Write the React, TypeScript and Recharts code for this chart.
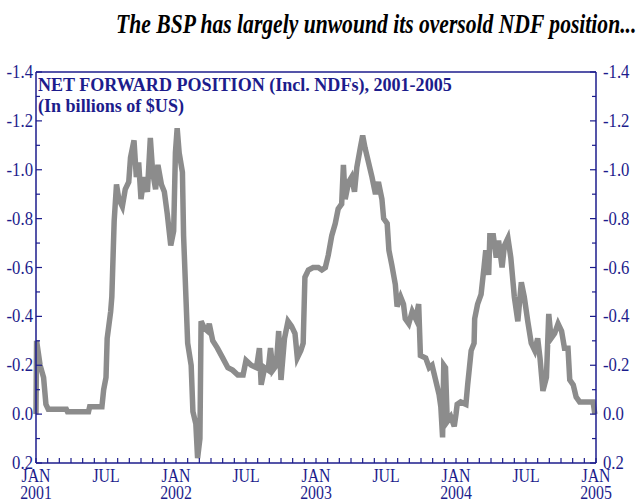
import { LineChart, Line, XAxis, YAxis, ReferenceLine } from "recharts";

// months since Jan 2001
const months = [
  0, 0.05, 0.35, 0.65, 0.85, 1.05, 2.6, 2.7, 4.5, 4.6, 5.65, 5.8, 6.0, 6.1, 6.4, 6.5, 6.7, 6.9, 7.1, 7.4,
  7.65, 7.95, 8.1, 8.4, 8.6, 8.8, 9.0, 9.25, 9.55, 9.8, 10.0, 10.25, 10.45, 10.75, 11.0, 11.25, 11.55, 11.8, 11.95, 12.1,
  12.27, 12.55, 12.65, 12.85, 13.0, 13.3, 13.45, 13.7, 13.85, 14.05, 14.15, 14.45, 14.7, 14.85, 15.15, 15.55, 16.0, 16.45, 16.85, 17.3,
  17.75, 18.0, 18.45, 18.9, 19.15, 19.3, 19.6, 19.9, 20.1, 20.3, 20.6, 20.8, 21.0, 21.3, 21.6, 21.9, 22.2, 22.4, 22.7, 22.9,
  23.05, 23.35, 23.75, 24.2, 24.5, 24.8, 25.05, 25.35, 25.65, 25.9, 26.2, 26.35, 26.5, 26.8, 27.05, 27.3, 27.5, 27.8, 28.0, 28.2,
  28.5, 28.8, 29.1, 29.35, 29.65, 29.8, 30.1, 30.25, 30.5, 30.8, 30.95, 31.25, 31.5, 31.65, 31.95, 32.25, 32.55, 32.8, 32.95, 33.4,
  33.7, 33.95, 34.25, 34.55, 34.7, 34.85, 34.95, 35.1, 35.25, 35.55, 35.85, 36.0, 36.1, 36.4, 36.85, 37.0, 37.15, 37.3, 37.55, 37.6,
  37.85, 38.15, 38.4, 38.55, 38.8, 38.9, 39.2, 39.45, 39.65, 39.95, 40.15, 40.45, 40.7, 41.0, 41.3, 41.6, 41.85, 42.15, 42.45, 42.75,
  43.0, 43.2, 43.45, 43.75, 43.95, 44.15, 44.45, 44.75, 45.05, 45.3, 45.6, 45.75, 46.05, 46.3, 46.6, 47.2, 47.75, 47.9,
];

// net forward position, billions of US$
const position = [
  0.0, -0.3, -0.2, -0.15, -0.04, -0.02, -0.02, -0.01, -0.01, -0.03, -0.03, -0.1, -0.15, -0.31, -0.42, -0.48, -0.79, -0.94, -0.88, -0.85,
  -0.92, -0.95, -1.05, -1.12, -0.97, -1.03, -0.88, -0.97, -0.91, -1.13, -0.99, -0.92, -1.02, -0.94, -0.91, -0.82, -0.69, -0.75, -1.07, -1.17,
  -1.07, -0.99, -0.73, -0.48, -0.29, -0.2, -0.01, 0.04, 0.18, 0.1, -0.38, -0.35, -0.34, -0.37, -0.3, -0.27, -0.23, -0.19, -0.18, -0.16,
  -0.16, -0.22, -0.2, -0.19, -0.27, -0.12, -0.19, -0.18, -0.27, -0.18, -0.2, -0.34, -0.14, -0.31, -0.38, -0.36, -0.33, -0.23, -0.26, -0.29,
  -0.56, -0.59, -0.6, -0.6, -0.59, -0.6, -0.65, -0.73, -0.78, -0.84, -0.86, -1.02, -0.88, -0.95, -0.97, -0.91, -1.01, -1.09, -1.14, -1.09,
  -1.03, -0.97, -0.9, -0.95, -0.88, -0.8, -0.78, -0.67, -0.61, -0.53, -0.44, -0.48, -0.45, -0.39, -0.37, -0.42, -0.39, -0.45, -0.24, -0.23,
  -0.19, -0.2, -0.14, -0.08, -0.03, 0.095, -0.2, -0.19, 0.03, 0.01, 0.05, 0.0, -0.04, -0.05, -0.04, -0.12, -0.19, -0.26, -0.29, -0.39,
  -0.45, -0.49, -0.6, -0.67, -0.57, -0.73, -0.73, -0.64, -0.71, -0.6, -0.69, -0.72, -0.64, -0.48, -0.38, -0.54, -0.48, -0.38, -0.29, -0.26,
  -0.31, -0.23, -0.095, -0.15, -0.41, -0.31, -0.33, -0.37, -0.34, -0.27, -0.27, -0.14, -0.12, -0.07, -0.05, -0.05, -0.05, 0.0,
];

const years = ["2001", "2002", "2003", "2004", "2005"];
const valueTicks = [-1.4, -1.3, -1.2, -1.1, -1.0, -0.9, -0.8, -0.7, -0.6, -0.5, -0.4, -0.3, -0.2, -0.1, 0.0, 0.1, 0.2];

const data = months.map((m, i) => ({ m, v: position[i] }));
const monthTicks = Array.from({ length: 49 }, (_, i) => i);

const NAVY = "#1c1c8c";
const FONT = "'Liberation Serif', 'Times New Roman', serif";

const isMajor = (v: number) => Math.round(v * 10) % 2 === 0;
const fmt = (v: number) => (Math.abs(v) < 1e-9 ? "0.0" : v.toFixed(1));

// slightly tall, narrow lettering like the original
const Label = ({ x, y, anchor, size = 19, children }: any) => (
  <text
    transform={`translate(${x},${y}) scale(0.88,1)`}
    textAnchor={anchor}
    fontSize={size}
    fill={NAVY}
    fontFamily={FONT}
  >
    {children}
  </text>
);

const LeftTick = ({ x, y, payload }: any) => (
  <g>
    <line x1={x} x2={x + (isMajor(payload.value) ? 6 : 4)} y1={y} y2={y} stroke={NAVY} strokeWidth={1.2} />
    {isMajor(payload.value) && (
      <Label x={x - 3} y={y + 6} anchor="end">
        {fmt(payload.value)}
      </Label>
    )}
  </g>
);

const RightTick = ({ x, y, payload }: any) => (
  <g>
    <line x1={x} x2={x - (isMajor(payload.value) ? 6 : 4)} y1={y} y2={y} stroke={NAVY} strokeWidth={1.2} />
    {isMajor(payload.value) && (
      <Label x={x + 7} y={y + 6} anchor="start">
        {fmt(payload.value)}
      </Label>
    )}
  </g>
);

const MonthTick = ({ x, y, payload }: any) => {
  const m = payload.value;
  const label = m % 12 === 0 ? "JAN" : m % 12 === 6 ? "JUL" : null;
  return (
    <g>
      <line x1={x} x2={x} y1={y} y2={y - 5} stroke={NAVY} strokeWidth={1.2} />
      {label && (
        <Label x={x} y={y + 19} anchor="middle" size={18}>
          {label}
        </Label>
      )}
      {m % 12 === 0 && (
        <Label x={x} y={y + 36} anchor="middle" size={18}>
          {years[m / 12]}
        </Label>
      )}
    </g>
  );
};

export default function App() {
  return (
    <div style={{ position: "absolute", left: 0, top: 0, width: 640, height: 502, background: "#fff", fontFamily: FONT }}>
      <div
        style={{
          position: "absolute",
          right: 4,
          top: 9,
          fontSize: 27,
          fontWeight: "bold",
          fontStyle: "italic",
          color: "#000",
          whiteSpace: "nowrap",
          transform: "scaleX(0.8)",
          transformOrigin: "right center",
        }}
      >
        The BSP has largely unwound its oversold NDF position...
      </div>
      <div
        style={{
          position: "absolute",
          left: 38,
          top: 74,
          fontSize: 19,
          fontWeight: "bold",
          color: NAVY,
          lineHeight: "21px",
          whiteSpace: "nowrap",
          transform: "scaleX(0.95)",
          transformOrigin: "left top",
        }}
      >
        NET FORWARD POSITION (Incl. NDFs), 2001-2005
        <br />
        (In billions of $US)
      </div>
      <LineChart width={640} height={502} data={data} margin={{ top: 72, right: 0, bottom: 0, left: 0 }}>
        <XAxis
          dataKey="m"
          type="number"
          domain={[0, 48]}
          ticks={monthTicks}
          interval={0}
          tickSize={0}
          tickMargin={0}
          height={39}
          axisLine={{ stroke: NAVY, strokeWidth: 1.5 }}
          tickLine={false}
          tick={<MonthTick />}
        />
        <YAxis
          yAxisId="left"
          orientation="left"
          domain={[-1.4, 0.2]}
          reversed
          ticks={valueTicks}
          interval={0}
          width={36}
          tickSize={0}
          tickMargin={0}
          axisLine={{ stroke: NAVY, strokeWidth: 1.5 }}
          tickLine={false}
          tick={<LeftTick />}
          allowDataOverflow
        />
        <YAxis
          yAxisId="right"
          orientation="right"
          domain={[-1.4, 0.2]}
          reversed
          ticks={valueTicks}
          interval={0}
          width={44}
          tickSize={0}
          tickMargin={0}
          axisLine={{ stroke: NAVY, strokeWidth: 1.5 }}
          tickLine={false}
          tick={<RightTick />}
          allowDataOverflow
        />
        <ReferenceLine yAxisId="left" y={-1.4} stroke={NAVY} strokeWidth={1.5} />
        <Line
          yAxisId="left"
          type="linear"
          dataKey="v"
          stroke="#8c8c8c"
          strokeWidth={5.5}
          dot={false}
          isAnimationActive={false}
        />
      </LineChart>
    </div>
  );
}
